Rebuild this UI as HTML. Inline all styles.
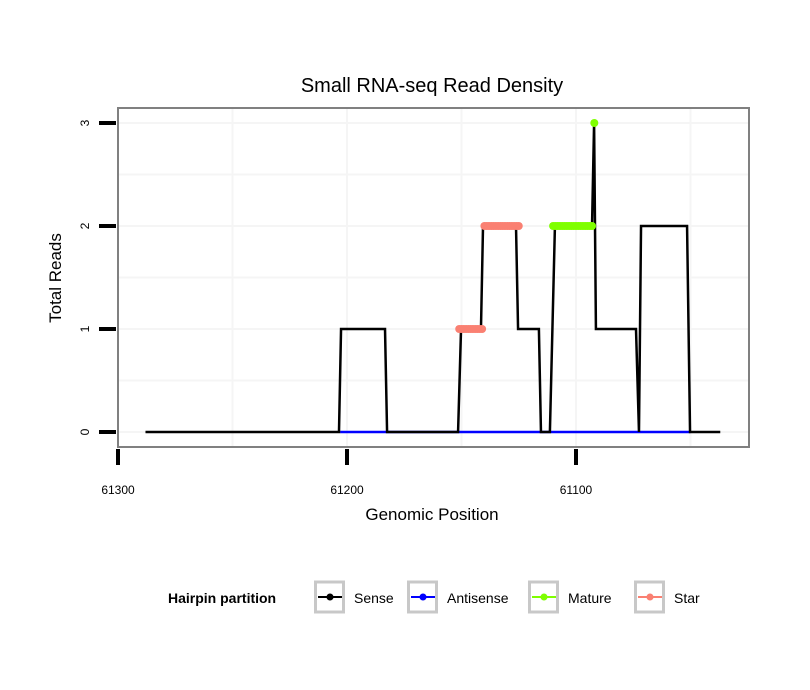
<!DOCTYPE html>
<html><head><meta charset="utf-8"><style>
body{margin:0;background:#fff}
svg{display:block;font-family:"Liberation Sans",sans-serif}
</style></head><body>
<svg id="chart" width="810" height="690">
<rect width="810" height="690" fill="#fff"/>
<text x="432" y="92" text-anchor="middle" font-size="20">Small RNA-seq Read Density</text>
<g id="grid"></g>
<g id="marks"></g>
<rect x="118" y="108" width="631" height="339" fill="none" stroke="#808080" stroke-width="2"/>
<g id="axes"></g>
<text x="432" y="520" text-anchor="middle" font-size="17">Genomic Position</text>
<text transform="translate(61,278) rotate(-90)" text-anchor="middle" font-size="17">Total Reads</text>
<g>
<text x="168" y="603" font-size="14" font-weight="bold">Hairpin partition</text>
<g id="legend"></g>
</g>
</svg>
<script>
const senseX=[61288,61203.5,61202.6,61183.4,61182.5,61151.5,61150.2,61141.5,61140.6,61126.2,61125.3,61116.2,61115.3,61111.4,61109.2,61093,61092.1,61091.3,61073.8,61072.5,61071.6,61051.5,61050.2,61037];
const senseY=[0,0,1,1,0,0,1,1,2,2,1,1,0,0,2,2,3,1,1,0,2,2,0,0];
const antisenseX=[61203,61050];
const antisenseY=[0,0];
const starPos=[61151,61150,61149,61148,61147,61146,61145,61144,61143,61142,61141,61140,61139,61138,61137,61136,61135,61134,61133,61132,61131,61130,61129,61128,61127,61126,61125];
const starVal=[1,1,1,1,1,1,1,1,1,1,1,2,2,2,2,2,2,2,2,2,2,2,2,2,2,2,2];
const maturePos=[61110,61109,61108,61107,61106,61105,61104,61103,61102,61101,61100,61099,61098,61097,61096,61095,61094,61093,61092];
const matureVal=[2,2,2,2,2,2,2,2,2,2,2,2,2,2,2,2,2,2,3];
const xTicks=[61300,61200,61100];
const yTicks=[0,1,2,3];
const legendLabels=["Sense","Antisense","Mature","Star"];
const legendColors=["#000000","#0000ff","#7fff00","#fa8072"];

const NS="http://www.w3.org/2000/svg";
const xs=v=>118+(61300-v)*2.29;
const ys=v=>432-v*103;
function mk(tag,attrs,parent){const e=document.createElementNS(NS,tag);for(const k in attrs)e.setAttribute(k,attrs[k]);parent.appendChild(e);return e;}
const grid=document.getElementById('grid'),marks=document.getElementById('marks'),axes=document.getElementById('axes'),leg=document.getElementById('legend');
for(let v=61300;v>=61000;v-=50){const x=xs(v);if(x<119||x>748)continue;
 const l=mk('line',{x1:x,x2:x,y1:109,y2:446,stroke:'#f5f5f5','stroke-width':2},grid);
 
 }
for(let v=-0.5;v<=3.5;v+=0.5){const y=ys(v);if(y<109||y>446)continue;
 const l=mk('line',{x1:119,x2:748,y1:y,y2:y,stroke:'#f5f5f5','stroke-width':2},grid);
 
 }
const pa=antisenseX.map((v,i)=>xs(v)+','+ys(antisenseY[i])).join(' ');
const al=mk('polyline',{points:pa,fill:'none',stroke:'#0000ff','stroke-width':2.5},marks);


const ps=senseX.map((v,i)=>xs(v)+','+ys(senseY[i])).join(' ');
const sl=mk('polyline',{points:ps,fill:'none',stroke:'#000','stroke-width':2.5},marks);


starPos.forEach((p,i)=>{const c=mk('circle',{cx:xs(p),cy:ys(starVal[i]),r:4,fill:'#fa8072'},marks);
 
 });
maturePos.forEach((p,i)=>{const c=mk('circle',{cx:xs(p),cy:ys(matureVal[i]),r:4,fill:'#7fff00'},marks);
 
 });
xTicks.forEach(v=>{const x=xs(v);
 const t=mk('line',{x1:x,x2:x,y1:449,y2:465,stroke:'#000','stroke-width':4},axes);
 
 
 const tx=mk('text',{x:x,y:494,'text-anchor':'middle','font-size':12},axes);tx.textContent=v;
 
 });
yTicks.forEach(v=>{const y=ys(v);
 const t=mk('line',{x1:99,x2:116,y1:y,y2:y,stroke:'#000','stroke-width':4},axes);
 
 
 const tx=mk('text',{transform:`translate(89,${y}) rotate(-90)`,'text-anchor':'middle','font-size':12},axes);tx.textContent=v;
 
 });
const boxX=[314,407,528,634];
legendLabels.forEach((lab,i)=>{const g=mk('g',{},leg);
 
 
 const bx=boxX[i];
 mk('rect',{x:bx+1.5,y:582,width:28,height:30,fill:'#fff',stroke:'#c8c8c8','stroke-width':3},g);
 mk('line',{x1:bx+4,x2:bx+28,y1:597,y2:597,stroke:legendColors[i],'stroke-width':2},g);
 mk('circle',{cx:bx+16,cy:597,r:3.5,fill:legendColors[i]},g);
 const t=mk('text',{x:bx+40,y:603,'font-size':14},g);t.textContent=lab;});
</script>
</body></html>
